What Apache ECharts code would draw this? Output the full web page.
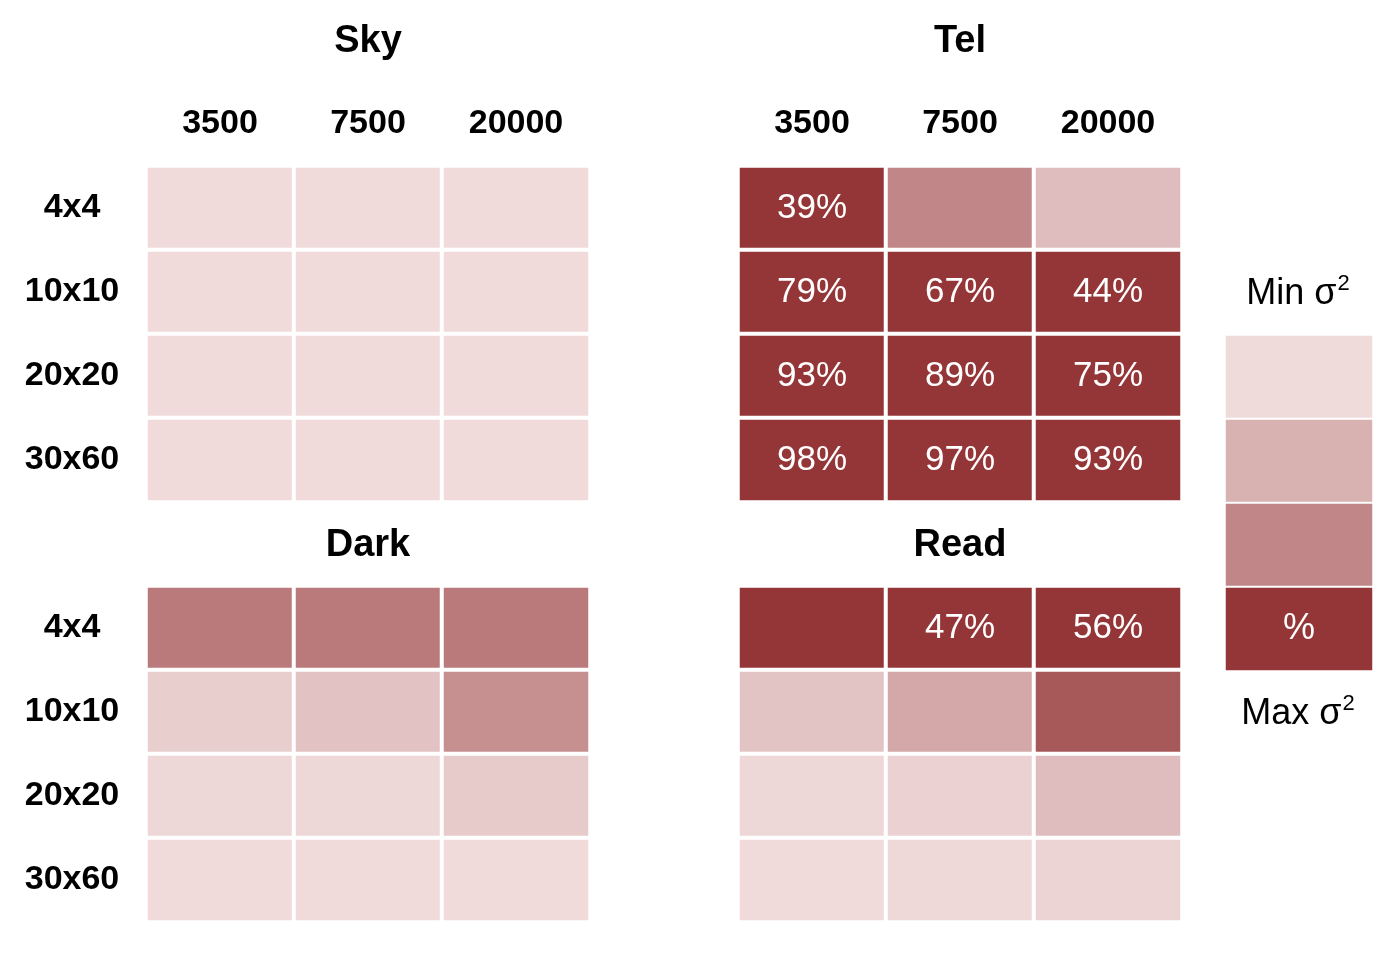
<!DOCTYPE html>
<html>
<head>
<meta charset="utf-8">
<script src="https://cdn.jsdelivr.net/npm/echarts@6/dist/echarts.min.js"></script>
<style>
  html, body { margin: 0; padding: 0; background: #fff; }
  #chart { width: 1396px; height: 954px; }
</style>
</head>
<body>
<div id="chart"></div>
<script>
// ---- data ----
const columns = ['3500', '7500', '20000'];
const rows = ['4x4', '10x10', '20x20', '30x60'];
const panelNames = ['Sky', 'Tel', 'Dark', 'Read'];
// fraction of variance (%) — rows x columns
const sky  = [[0.2, 0.2, 0.2], [0.2, 0.2, 0.2], [0.2, 0.2, 0.2], [0.2, 0.2, 0.2]];
const tel  = [[39, 20, 7], [79, 67, 44], [93, 89, 75], [98, 97, 93]];
const dark = [[23, 23, 23], [3, 6, 18], [1, 1, 4], [0.2, 0.2, 0.2]];
const read = [[40, 47, 56], [5.5, 12, 31], [1, 2.3, 7], [0.2, 0.8, 1.6]];
const labelMin = 39;                   // percentages shown from this value
const hiddenLabels = [['Read', 0, 0]]; // [panel, row, col] with no printed label
const colorMax = 39;
const legendValues = [0, 10, 20, 39];
const legendTexts = ['', '', '', '%'];

const panels = [sky, tel, dark, read];
const FONT = '"Liberation Sans", Arial, Helvetica, sans-serif';

const chart = echarts.init(document.getElementById('chart'));

const gridPos = [
  { left: 146, top: 166 },
  { left: 738, top: 166 },
  { left: 146, top: 586 },
  { left: 738, top: 586 }
];

const grids = [], xAxes = [], yAxes = [], series = [];
panels.forEach((vals, p) => {
  grids.push({ left: gridPos[p].left, top: gridPos[p].top, width: 444, height: 336 });
  xAxes.push({
    type: 'category', data: columns, gridIndex: p, position: 'top',
    axisLine: { show: false }, axisTick: { show: false }, splitLine: { show: false },
    axisLabel: { show: p < 2, fontFamily: FONT, fontSize: 34, fontWeight: 'bold', color: '#000', margin: 42, verticalAlign: 'middle' }
  });
  yAxes.push({
    type: 'category', data: rows, gridIndex: p, inverse: true,
    axisLine: { show: false }, axisTick: { show: false }, splitLine: { show: false },
    axisLabel: { show: p % 2 === 0, fontFamily: FONT, fontSize: 34, fontWeight: 'bold', color: '#000', margin: 74, align: 'center' }
  });
  const data = [];
  vals.forEach((r, ri) => r.forEach((v, ci) => data.push([ci, ri, v])));
  const name = panelNames[p];
  series.push({
    type: 'heatmap', name, xAxisIndex: p, yAxisIndex: p, data,
    itemStyle: { borderColor: '#fff', borderWidth: 4 },
    emphasis: { disabled: true },
    label: {
      show: true, color: '#fff', fontFamily: FONT, fontSize: 35,
      formatter: (prm) => {
        const [ci, ri, v] = prm.data;
        if (hiddenLabels.some(h => h[0] === name && h[1] === ri && h[2] === ci)) return '';
        return v >= labelMin ? Math.round(v) + '%' : '';
      }
    }
  });
});

// legend block as a one-column heatmap
grids.push({ left: 1225, top: 335, width: 148, height: 336 });
xAxes.push({ type: 'category', data: ['σ2'], gridIndex: 4, show: false });
yAxes.push({ type: 'category', data: legendValues.map((v, i) => 'L' + i), gridIndex: 4, inverse: true, show: false });
series.push({
  type: 'heatmap', xAxisIndex: 4, yAxisIndex: 4,
  data: legendValues.map((v, i) => [0, i, v]),
  itemStyle: { borderColor: '#fff', borderWidth: 2 },
  emphasis: { disabled: true },
  label: { show: true, color: '#fff', fontFamily: FONT, fontSize: 36, formatter: (prm) => legendTexts[prm.data[1]] }
});

const titlePos = [[368, 42], [960, 42], [368, 546], [960, 546]];
const graphics = panelNames.map((t, i) => ({
  type: 'text', x: titlePos[i][0], y: titlePos[i][1],
  style: { text: t, fontFamily: FONT, fontSize: 38, fontWeight: 'bold', fill: '#000', align: 'center', verticalAlign: 'middle' }
}));
const supRich = {
  n: { fontFamily: FONT, fontSize: 36, color: '#000' },
  s: { fontFamily: FONT, fontSize: 22, color: '#000', verticalAlign: 'top', padding: [0, 0, 20, 1] }
};
graphics.push({
  type: 'text', x: 1298, y: 294,
  style: { text: '{n|Min σ}{s|2}', rich: supRich, align: 'center', verticalAlign: 'middle' }
});
graphics.push({
  type: 'text', x: 1298, y: 714,
  style: { text: '{n|Max σ}{s|2}', rich: supRich, align: 'center', verticalAlign: 'middle' }
});

chart.setOption({
  animation: false,
  backgroundColor: '#fff',
  grid: grids,
  xAxis: xAxes,
  yAxis: yAxes,
  visualMap: {
    show: false, type: 'continuous', min: 0, max: colorMax,
    seriesIndex: [0, 1, 2, 3, 4],
    inRange: { color: ['#f0dbdb', '#943638'] }
  },
  series,
  graphic: graphics
});
</script>
</body>
</html>
